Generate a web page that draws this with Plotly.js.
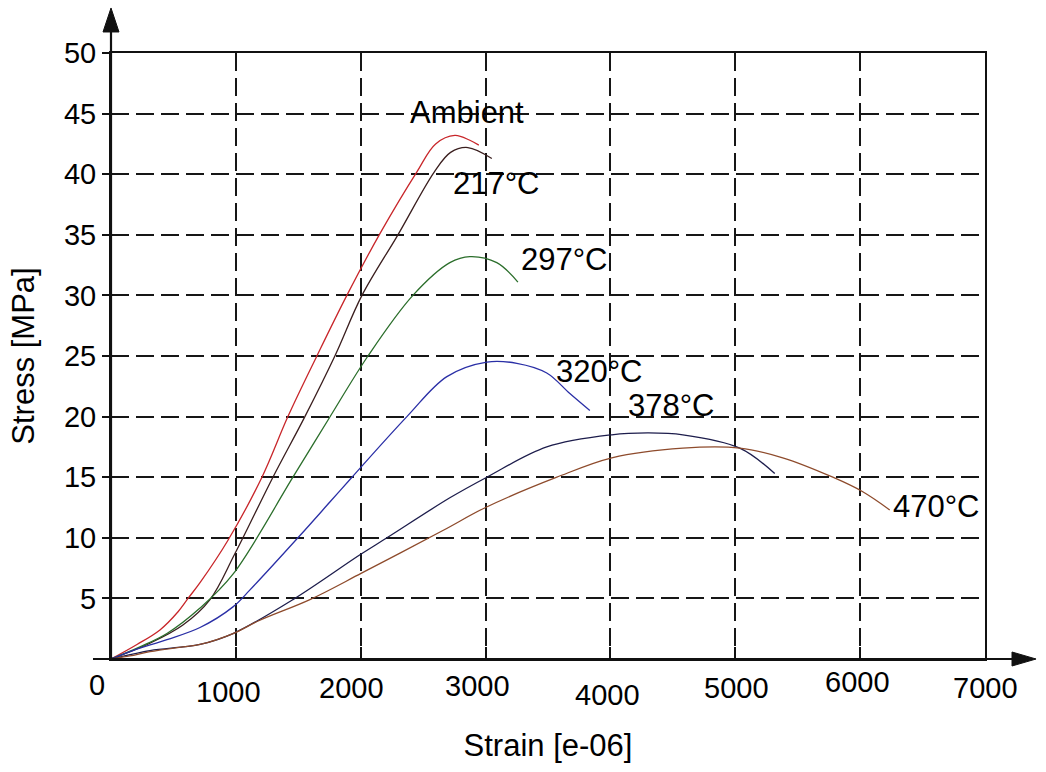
<!DOCTYPE html>
<html>
<head>
<meta charset="utf-8">
<script src="https://cdn.plot.ly/plotly-3.0.1.min.js"></script>
<style>html,body{margin:0;padding:0;background:#fff;}#chart{width:1046px;height:772px;}</style>
</head>
<body>
<div id="chart"></div>
<script>
// ---- data ----
const seriesNames = ['Ambient', '217°C', '297°C', '320°C', '378°C', '470°C'];

const strainAmbient = [0, 208, 392, 537, 617, 713, 937, 1209, 1417, 1649, 1889, 2154, 2450, 2600, 2754, 2874, 2946];
const stressAmbient = [0, 1.2, 2.4, 3.9, 5.0, 6.3, 9.8, 15, 20, 25, 30, 35.1, 40.2, 42.5, 43.2, 42.8, 42.4];

const strain217 = [0, 312, 576, 793, 993, 1297, 1553, 1793, 2010, 2298, 2590, 2720, 2858, 3050];
const stress217 = [0, 1.3, 2.8, 4.9, 8.7, 15, 20, 25, 30, 35, 40.2, 41.8, 42.2, 41.3];

const strain297 = [0, 232, 448, 713, 977, 1457, 1737, 2058, 2418, 2714, 2874, 3090, 3259];
const stress297 = [0, 1.0, 2.1, 4.2, 7.0, 15, 19.7, 25, 30, 32.7, 33.2, 32.7, 31.1];

const strain320 = [0, 176, 448, 713, 977, 1113, 1497, 1753, 1930, 2370, 2690, 3010, 3250, 3490, 3675, 3835];
const stress320 = [0, 0.7, 1.6, 2.6, 4.3, 5.7, 10, 12.95, 15, 20, 23.3, 24.5, 24.4, 23.6, 21.9, 20.5];

const strain378 = [0, 312, 576, 713, 977, 1457, 1994, 2210, 2714, 3010, 3490, 4011, 4300, 4580, 5036, 5316];
const stress378 = [0, 0.7, 1.0, 1.2, 2.1, 4.9, 8.6, 10, 13.3, 15, 17.5, 18.5, 18.65, 18.5, 17.4, 15.3];

const strain470 = [0, 150, 312, 576, 713, 977, 1193, 1593, 2010, 2658, 3000, 3571, 4011, 4580, 5036, 5380, 5781, 6021, 6237];
const stress470 = [0, 0.25, 0.6, 1.0, 1.2, 2.1, 3.2, 4.9, 7.1, 10.6, 12.5, 15, 16.6, 17.4, 17.4, 16.6, 15, 13.8, 12.3];

// curve label anchor points (data units)
const labelStrain = [2850, 3090, 3635, 3915, 4492, 6613];
const labelStress = [45.05, 39.2, 33.0, 23.7, 20.9, 12.6];

const xTickVals = [0, 1000, 2000, 3000, 4000, 5000, 6000, 7000];
const xTickText = ['0', '1000', '2000', '3000', '4000', '5000', '6000', '7000'];
const yTickVals = [5, 10, 15, 20, 25, 30, 35, 40, 45, 50];
const yTickText = ['5', '10', '15', '20', '25', '30', '35', '40', '45', '50'];

// ---- styling ----
const colors = ['#c8262a', '#3a1e1e', '#2b6e2b', '#2a2fa6', '#1d1d4c', '#8e4b2c'];
const xTickShift = [[-14, -26], [-7, -33], [-9, -29], [-8, -27], [-3, -36], [1, -29], [-3, -23], [0, -29]];
const FONT = 'Liberation Sans, Arial, Helvetica, sans-serif';
const INK = '#111111';

const xs = [strainAmbient, strain217, strain297, strain320, strain378, strain470];
const ys = [stressAmbient, stress217, stress297, stress320, stress378, stress470];

const traces = xs.map((x, i) => ({
  type: 'scatter', mode: 'lines', x: x, y: ys[i], name: seriesNames[i],
  line: {color: colors[i], width: 1.3, shape: 'spline', smoothing: 1.0},
  showlegend: false, hoverinfo: 'skip'
}));

const annotations = [];
seriesNames.forEach((n, i) => annotations.push({
  xref: 'x', yref: 'y', x: labelStrain[i], y: labelStress[i], text: n,
  showarrow: false, xanchor: 'center', yanchor: 'middle',
  font: {family: FONT, size: 31, color: '#000'}
}));
xTickVals.forEach((v, i) => annotations.push({
  xref: 'x', yref: 'y', x: v, y: 0, text: xTickText[i], showarrow: false,
  xanchor: 'center', yanchor: 'middle', xshift: xTickShift[i][0], yshift: xTickShift[i][1],
  font: {family: FONT, size: 29, color: '#000'}
}));

const shapes = [
  // extended x axis line + arrow
  {type: 'line', xref: 'paper', yref: 'paper', x0: -0.0206, x1: 1.031, y0: 0, y1: 0, line: {color: INK, width: 2.2}, layer: 'above'},
  {type: 'path', xref: 'paper', yref: 'paper', path: 'M 1.0584 0 L 1.0309 0.01155 L 1.0309 -0.01155 Z', fillcolor: INK, line: {color: INK, width: 1}, layer: 'above'},
  // extended y axis line + arrow
  {type: 'line', xref: 'paper', yref: 'paper', x0: 0, x1: 0, y0: 0, y1: 1.036, line: {color: INK, width: 2.2}, layer: 'above'},
  {type: 'path', xref: 'paper', yref: 'paper', path: 'M 0 1.0743 L -0.00915 1.0347 L 0.00915 1.0347 Z', fillcolor: INK, line: {color: INK, width: 1}, layer: 'above'}
];

const layout = {
  width: 1046, height: 772,
  margin: {l: 111, r: 61, t: 53, b: 113},
  paper_bgcolor: '#ffffff', plot_bgcolor: '#ffffff',
  font: {family: FONT, color: '#000'},
  xaxis: {
    range: [0, 7000], tickvals: xTickVals, ticktext: xTickText, showticklabels: false,
    ticks: 'inside', ticklen: 12, tickwidth: 2, tickcolor: INK,
    showgrid: true, gridcolor: '#161616', gridwidth: 2.1, griddash: '18px,7px',
    showline: true, linecolor: INK, linewidth: 2, mirror: true, zeroline: false,
    title: {text: 'Strain [e-06]', font: {family: FONT, size: 31, color: '#000'}, standoff: 74}
  },
  yaxis: {
    range: [0, 50], tickvals: yTickVals, ticktext: yTickText,
    ticks: 'outside', ticklen: 7, tickwidth: 2, tickcolor: INK,
    tickfont: {family: FONT, size: 29, color: '#000'},
    showgrid: true, gridcolor: '#161616', gridwidth: 2.1, griddash: '18px,7px',
    showline: true, linecolor: INK, linewidth: 2, mirror: true, zeroline: false,
    title: {text: 'Stress [MPa]', font: {family: FONT, size: 31, color: '#000'}, standoff: 20}
  },
  annotations: annotations,
  shapes: shapes
};

Plotly.newPlot('chart', traces, layout, {staticPlot: true, displayModeBar: false});
</script>
</body>
</html>
